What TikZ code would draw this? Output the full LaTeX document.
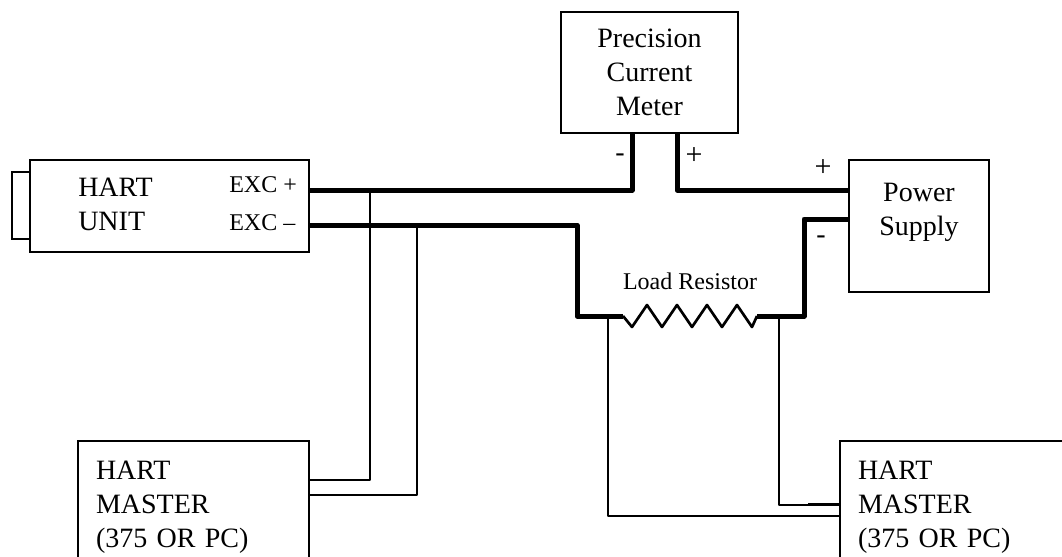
\documentclass[tikz,border=0pt]{standalone}
\usepackage{fontspec}
\setmainfont{Liberation Serif}
\usetikzlibrary{positioning}
\tikzset{
    boxnode/.style={draw,rectangle,inner sep=0pt,outer sep=0pt,line width=1.1pt,anchor=north west,align=center,font=\fontsize{21}{25.5}\selectfont},
    masterbox/.style={boxnode,align=left,inner xsep=13.5pt,inner ysep=7pt,minimum height=100pt},
    labelnode/.style={inner sep=0.75pt,align=left,font=\fontsize{21}{25.5}\selectfont},
    smalllabel/.style={inner sep=0.75pt,font=\fontsize{18}{20}\selectfont},
    signlabel/.style={inner sep=0.75pt,font=\fontsize{22.5}{25}\selectfont},
    powerwire/.style={line width=3.75pt,line join=round},
    signalwire/.style={line width=1.3pt,line join=round}
}

\begin{document}
\begin{tikzpicture}[x=0.75pt,y=0.75pt,yscale=-1,xscale=1]
    \useasboundingbox (0,0) rectangle (1062,556);
    \clip (0,0) rectangle (1062,556);

    % Boxes
    \node (unit) [boxnode,minimum width=209.25pt,minimum height=69pt] at (30,160) {};
    \node (plug) [boxnode,anchor=north east,minimum width=13.5pt,minimum height=50.25pt] at (30,172) {};
    \node (meter) [boxnode,minimum width=132.75pt,minimum height=90.75pt] at (561,12) {Precision\\Current\\Meter};
    \node (supply) [boxnode,minimum width=105pt,minimum height=99pt] at (849,160) {Power\\Supply\\\mbox{}};
    \node (masterL) [masterbox,text width=146.25pt] at (78,441) {HART\\MASTER\\(375 OR PC)};
    \node (masterR) [masterbox,text width=165pt] at (840,441) {HART\\MASTER\\(375 OR PC)};

    % Text Node
    \node (unitname) [labelnode,anchor=north west] at (77,177) {HART\\UNIT};
    \node (excplus) [smalllabel,anchor=west] at (228,185) {EXC +};
    \node (excminus) [smalllabel,anchor=west] at (228,223) {EXC --};
    \node (loadname) [smalllabel,anchor=center] at (690,281) {Load Resistor};
    \node (meterminus) [labelnode,anchor=center] at (620,158) {-};
    \node (meterplus) [signlabel,anchor=center] at (694,156) {+};
    \node (supplyplus) [signlabel,anchor=center] at (823,168) {+};
    \node (supplyminus) [labelnode,anchor=center] at (821,240) {-};

    % Ports
    \coordinate (uplus) at (309,190);
    \coordinate (uminus) at (309,225);
    \coordinate (mminus) at (632,133);
    \coordinate (mplus) at (677,133);
    \coordinate (splus) at (849,190);
    \coordinate (sminus) at (849,219);
    \coordinate (resin) at (623,316);
    \coordinate (resout) at (757,316);

    % Power loop
    \draw [powerwire] (uplus) -| (mminus);
    \draw [powerwire] (mplus) |- (splus);
    \draw [powerwire] (uminus) -- (577,225) |- (resin);
    \draw [powerwire] (resout) -- (804,316) |- (sminus);

    % Resistor
    \draw [line width=2pt,line join=round] (resin) -- (632,327) -- (647,305) -- (662,327) -- (677,305) -- (692,327) -- (707,305) -- (722,327) -- (737,305) -- (752,327) -- (resout);

    % Master connections
    \draw [signalwire] (370,190) |- (309,480);
    \draw [signalwire] (417,225) |- (309,495);
    \draw [signalwire] (608,316) |- (840,516);
    \draw [signalwire] (779,316) |- (840,505);
    \draw [signalwire] (808,503.5) -- (840,503.5);
\end{tikzpicture}
\end{document}
